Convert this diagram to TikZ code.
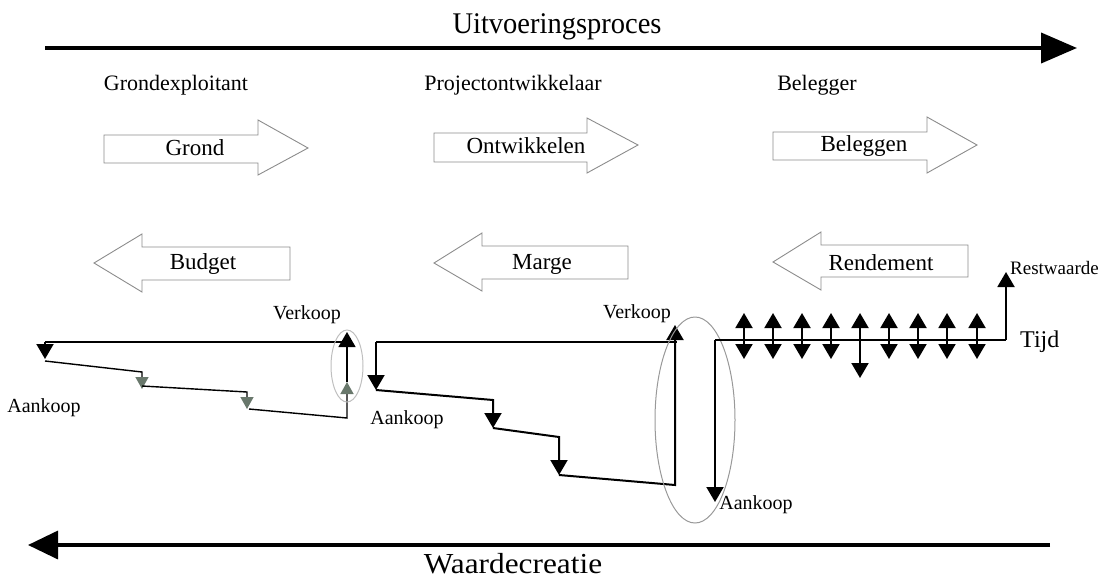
\documentclass[tikz,border=0pt]{standalone}
\usepackage{fontspec}
\setmainfont{Liberation Serif}
\usetikzlibrary{arrows.meta}

\newcommand{\fsz}[1]{\fontsize{#1}{#1}\selectfont}

\tikzset{
  blockarrow/.style={draw=black!45, line width=0.9pt, fill=white},
  heading/.style={inner sep=0pt, font=\fsz{22}},
  arrowlabel/.style={inner sep=0pt, font=\fsz{23}},
  smalllabel/.style={inner sep=0pt, font=\fsz{20}},
  bigtip/.style={-{Triangle[length=15pt,width=17pt]}},
  smalltip/.style={-{Triangle[length=12pt,width=13pt,fill=greytip,color=greytip]}},
  topline/.style={line width=2.8pt},
  stepline/.style={line width=2pt},
  thinstep/.style={line width=1.4pt},
  halo/.style={draw=black!40, line width=1pt},
}
\definecolor{greytip}{RGB}{105,120,108}

\begin{document}
\begin{tikzpicture}[x=1pt,y=-1pt]
\useasboundingbox (0,0) rectangle (1116,581);

% main process arrows
\coordinate (procL) at (45,48);
\coordinate (procR) at (1077,48);
\draw[line width=4pt, -{Triangle[length=36pt,width=30pt]}] (procL) -- (procR);
\node[inner sep=0pt, font=\fsz{30}] (proc) at (557,27) {\scalebox{0.95}[1]{Uitvoeringsproces}};

\coordinate (waardeR) at (1050,545);
\coordinate (waardeL) at (28,545);
\draw[line width=3.5pt, -{Triangle[length=30pt,width=28pt]}] (waardeR) -- (waardeL);
\node[inner sep=0pt, font=\fsz{29}] (waarde) at (513,564) {\scalebox{1.08}[1]{Waardecreatie}};

% actors
\node[heading] (h1) at (176,85) {Grondexploitant};
\node[heading] (h2) at (513,85) {Projectontwikkelaar};
\node[heading] (h3) at (817,85) {Belegger};

% right-pointing block arrows
\draw[blockarrow] (104,135) -- (258,135) -- (258,120) -- (308,148) -- (258,175) -- (258,163) -- (104,163) -- cycle;
\node[arrowlabel] (a1) at (195,148) {Grond};
\draw[blockarrow] (434,133) -- (587,133) -- (587,118) -- (638,145) -- (587,173) -- (587,162) -- (434,162) -- cycle;
\node[arrowlabel] (a2) at (526,146) {Ontwikkelen};
\draw[blockarrow] (773,132) -- (927,132) -- (927,117) -- (977,145) -- (927,173) -- (927,160) -- (773,160) -- cycle;
\node[arrowlabel] (a3) at (864,146) {Beleggen};

% left-pointing block arrows
\draw[blockarrow] (290,247) -- (142,247) -- (142,234) -- (94,263) -- (142,292) -- (142,280) -- (290,280) -- cycle;
\node[arrowlabel] (b1) at (203,264) {Budget};
\draw[blockarrow] (628,246) -- (482,246) -- (482,233) -- (434,263) -- (482,291) -- (482,279) -- (628,279) -- cycle;
\node[arrowlabel] (b2) at (542,264) {Marge};
\draw[blockarrow] (968,245) -- (821,245) -- (821,232) -- (773,262) -- (821,290) -- (821,277) -- (968,277) -- cycle;
\node[arrowlabel] (b3) at (881,263) {Rendement};

% ---- phase 1: ground exploitation
\coordinate (g0) at (45,342);
\coordinate (g0d) at (45,359);
\coordinate (g1) at (45,361);
\coordinate (g2) at (142,372);
\coordinate (g2d) at (142,389);
\coordinate (g3) at (142,386);
\coordinate (g4) at (247,392);
\coordinate (g4d) at (247,409);
\coordinate (g5) at (249,409);
\coordinate (g6) at (347,418);
\coordinate (g6m) at (347,382);
\coordinate (g7) at (347,332);
\coordinate (g8) at (347,342);
\draw[topline] (g0) -- (g8);
\draw[stepline, bigtip] (g0) -- (g0d);
\draw[thinstep, smalltip] (g1) -- (g2) -- (g2d);
\draw[thinstep, smalltip] (g3) -- (g4) -- (g4d);
\draw[thinstep, smalltip] (g5) -- (g6) -- (g6m);
\draw[thinstep, bigtip] (g6m) -- (g7);
\draw[halo, black!25] (347,366) ellipse [x radius=16pt, y radius=36pt];
\node[smalllabel] (verkoop1) at (307,315) {Verkoop};
\node[smalllabel] (aankoop1) at (44,408) {Aankoop};

% ---- phase 2: development
\coordinate (p0) at (376,342);
\coordinate (p1) at (376,390);
\coordinate (p2) at (493,400);
\coordinate (p3) at (493,428);
\coordinate (p4) at (559,437);
\coordinate (p5) at (559,475);
\coordinate (p6) at (675,485);
\coordinate (p7) at (675,325);
\coordinate (p8) at (677,342);
\draw[topline] (p0) -- (p8);
\draw[stepline, bigtip] (p0) -- (p1);
\draw[stepline, bigtip] (p1) -- (p2) -- (p3);
\draw[stepline, bigtip] (p3) -- (p4) -- (p5);
\draw[stepline, bigtip] (p5) -- (p6) -- (p7);
\draw[halo] (695,420) ellipse [x radius=40pt, y radius=103pt];
\node[smalllabel] (verkoop2) at (637,314) {Verkoop};
\node[smalllabel] (aankoop2) at (407,420) {Aankoop};

% ---- phase 3: investment
\coordinate (i0) at (715,340);
\coordinate (i1) at (715,502);
\coordinate (i2) at (1006,340);
\coordinate (i3) at (1006,272);
\draw[stepline, bigtip] (i0) -- (i1);
\draw[topline] (i0) -- (i2);
\draw[stepline, bigtip] (i2) -- (i3);
\foreach \x [count=\k] in {744,773,802,831,860,889,918,947,977}{
  \coordinate (c\k) at (\x,340);
  \coordinate (u\k) at (\x,313);
  \ifnum\k=5 \coordinate (d\k) at (\x,378); \else \coordinate (d\k) at (\x,359); \fi
  \draw[stepline, bigtip] (c\k) -- (u\k);
  \draw[stepline, bigtip] (c\k) -- (d\k);
}
\node[smalllabel, anchor=west] (rest) at (1010,268) {\fsz{19}Restwaarde};
\node[inner sep=0pt, font=\fsz{24}, anchor=west] (tijd) at (1020,342) {Tijd};
\node[smalllabel] (aankoop3) at (756,505) {Aankoop};

\end{tikzpicture}
\end{document}
